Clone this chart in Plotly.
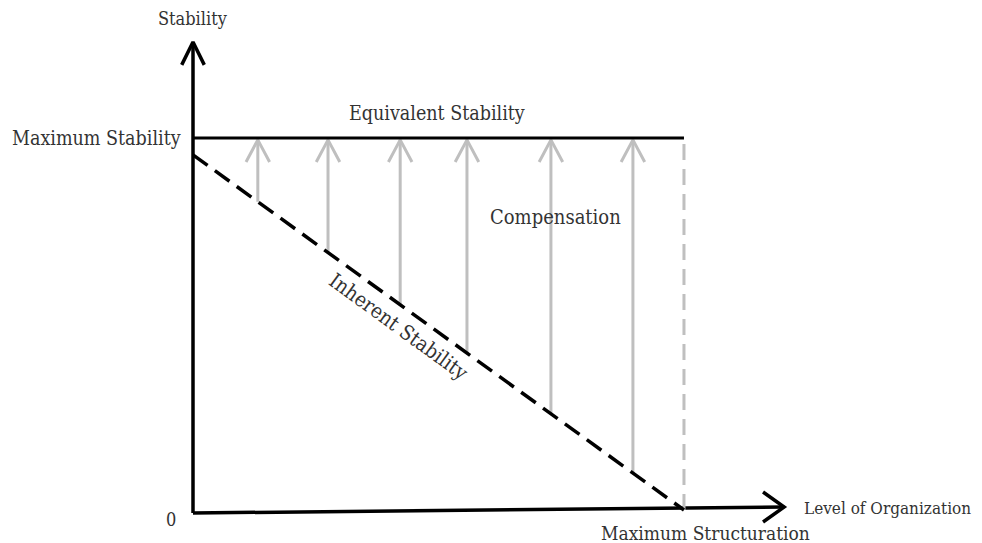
import plotly.graph_objects as go

# ---- data (conceptual units: x = level of organization, y = stability) ----
max_structuration = 1.0
max_stability = 1.0
inherent_start = 0.955          # inherent stability at x = 0
inherent_end = 0.008            # inherent stability at maximum structuration
arrow_x = [0.132, 0.275, 0.422, 0.558, 0.729, 0.896]
x_axis_end = 1.204
x_axis_end_y = 0.016            # the hand-drawn x axis rises slightly
y_axis_end = 1.256

FONT = "DejaVu Serif Condensed"
TXT = "#333333"
GRAY = "#bfbfbf"

def inherent(x):
    return inherent_start + (inherent_end - inherent_start) * x / max_structuration

fig = go.Figure()

# axes
fig.add_trace(go.Scatter(x=[0, 0], y=[0, y_axis_end], mode="lines",
                         line=dict(color="black", width=3.5), hoverinfo="skip"))
fig.add_trace(go.Scatter(x=[0, x_axis_end], y=[0, x_axis_end_y], mode="lines",
                         line=dict(color="black", width=3.5), hoverinfo="skip"))
# axis arrow heads (open V)
hx, hy = 0.023, 0.061
fig.add_trace(go.Scatter(x=[-hx, 0, hx], y=[y_axis_end - hy, y_axis_end, y_axis_end - hy],
                         mode="lines", line=dict(color="black", width=3.5), hoverinfo="skip"))
vx, vy = 0.043, 0.04
fig.add_trace(go.Scatter(x=[x_axis_end - vx, x_axis_end, x_axis_end - vx],
                         y=[x_axis_end_y + vy, x_axis_end_y, x_axis_end_y - vy],
                         mode="lines", line=dict(color="black", width=3.5), hoverinfo="skip"))

# gray compensation arrows
for ax in arrow_x:
    fig.add_trace(go.Scatter(x=[ax, ax], y=[inherent(ax), max_stability - 0.005], mode="lines",
                             line=dict(color=GRAY, width=3), hoverinfo="skip"))
    ah_x, ah_y = 0.024, 0.064
    fig.add_trace(go.Scatter(x=[ax - ah_x, ax, ax + ah_x],
                             y=[max_stability - ah_y, max_stability - 0.005, max_stability - ah_y],
                             mode="lines", line=dict(color=GRAY, width=3), hoverinfo="skip"))

# gray dashed vertical at maximum structuration
fig.add_trace(go.Scatter(x=[max_structuration, max_structuration], y=[inherent_end, max_stability],
                         mode="lines", line=dict(color=GRAY, width=3, dash="16px,9px"),
                         hoverinfo="skip"))

# equivalent stability line
fig.add_trace(go.Scatter(x=[0, max_structuration], y=[max_stability, max_stability], mode="lines",
                         line=dict(color="black", width=3), hoverinfo="skip"))

# inherent stability dashed line
fig.add_trace(go.Scatter(x=[0, max_structuration], y=[inherent(0), inherent(max_structuration)],
                         mode="lines", line=dict(color="black", width=3.5, dash="18px,9px"),
                         hoverinfo="skip"))

ann = []
def txt(x, y, s, size=17, xanchor="center", yanchor="middle", angle=0):
    ann.append(dict(x=x, y=y, text=s, showarrow=False, xanchor=xanchor, yanchor=yanchor,
                    textangle=angle, xref="x", yref="y",
                    font=dict(family=FONT, size=size, color=TXT)))

txt(0, 1.32, "Stability", size=18)
txt(-0.02, max_stability, "Maximum Stability", size=19.5, xanchor="right")
txt(-0.03, -0.016, "0", size=18, xanchor="right")
txt(0.497, 1.065, "Equivalent Stability", size=19.5)
txt(0.739, 0.79, "Compensation", size=20)
txt(0.42, 0.497, "Inherent Stability", size=20.5, angle=36)
txt(1.24, 0.013, "Level of Organization", size=17, xanchor="left")
txt(1.043, -0.052, "Maximum Structuration", size=19)

# page body has an 8px margin: figure is 8px smaller, ranges start 8px in
fig.update_layout(
    width=974, height=535,
    margin=dict(l=0, r=0, t=0, b=0),
    paper_bgcolor="white", plot_bgcolor="white",
    showlegend=False,
    annotations=ann,
    xaxis=dict(range=[-0.3768, 1.607], visible=False, fixedrange=True),
    yaxis=dict(range=[-0.08, 1.3467], visible=False, fixedrange=True),
)

fig.write_html("out.html")
